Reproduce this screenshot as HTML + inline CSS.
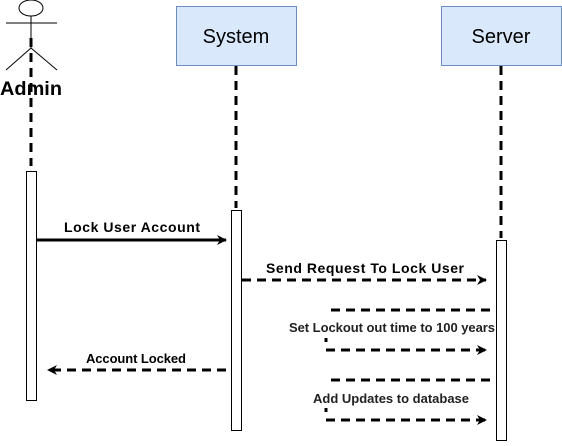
<!DOCTYPE html>
<html><head><style>body{margin:0;background:#fff}</style></head><body>
<svg width="562" height="441" xmlns="http://www.w3.org/2000/svg" font-family="Liberation Sans, Arial, sans-serif">
<defs><marker id="a" markerWidth="10" markerHeight="10" refX="9" refY="5" orient="auto" markerUnits="userSpaceOnUse"><path d="M0,0 L10,5 L0,10 L3,5 Z" fill="#000"/></marker></defs>
<g stroke="#000" fill="none" stroke-width="1">
<ellipse cx="31" cy="8" rx="12" ry="8"/>
<line x1="6" y1="23" x2="57" y2="23"/>
<line x1="31" y1="16" x2="31" y2="48"/>
<line x1="31" y1="48" x2="6" y2="70"/>
<line x1="31" y1="48" x2="57" y2="70"/>
</g>
<text x="0" y="95" font-size="19" font-weight="bold" textLength="62" lengthAdjust="spacingAndGlyphs">Admin</text>
<g stroke="#000" stroke-width="3" stroke-dasharray="9,6">
<line x1="31" y1="38" x2="31" y2="166"/>
<line x1="236" y1="66" x2="236" y2="208"/>
<line x1="501" y1="66" x2="501" y2="238"/>
</g>
<rect x="176.5" y="6.5" width="120" height="59" fill="#dae8fc" stroke="#6c8ebf"/>
<text x="236" y="43" text-anchor="middle" font-size="20">System</text>
<rect x="441.5" y="6.5" width="120" height="59" fill="#dae8fc" stroke="#6c8ebf"/>
<text x="501" y="43" text-anchor="middle" font-size="20">Server</text>
<g fill="#fff" stroke="#000">
<rect x="26.5" y="171.5" width="10" height="229"/>
<rect x="231.5" y="210.5" width="10" height="220"/>
<rect x="496.5" y="240.5" width="10" height="200"/>
</g>
<g stroke="#000" stroke-width="3" fill="none">
<line x1="37" y1="240" x2="226" y2="240" marker-end="url(#a)"/>
<g stroke-dasharray="9,6">
<line x1="242" y1="280" x2="486" y2="280" marker-end="url(#a)"/>
<line x1="331" y1="310" x2="496" y2="310"/>
<line x1="326" y1="350" x2="486" y2="350" marker-end="url(#a)"/>
<line x1="226" y1="370" x2="48" y2="370" marker-end="url(#a)"/>
<line x1="331" y1="380" x2="496" y2="380"/>
<line x1="326" y1="420" x2="486" y2="420" marker-end="url(#a)"/>
</g>
<line x1="326" y1="338" x2="326" y2="342"/>
<line x1="326" y1="408" x2="326" y2="412"/>
</g>
<g font-size="14" font-weight="bold" lengthAdjust="spacingAndGlyphs">
<text x="64" y="232" textLength="136">Lock User Account</text>
<text x="266" y="273" textLength="198">Send Request To Lock User</text>
<text x="86" y="363" font-size="13" textLength="100">Account Locked</text>
</g>
<g font-size="13" font-weight="bold" fill="#222" lengthAdjust="spacingAndGlyphs">
<text x="289" y="332" textLength="206">Set Lockout out time to 100 years</text>
<text x="313" y="403" textLength="156">Add Updates to database</text>
</g>
</svg>
</body></html>
